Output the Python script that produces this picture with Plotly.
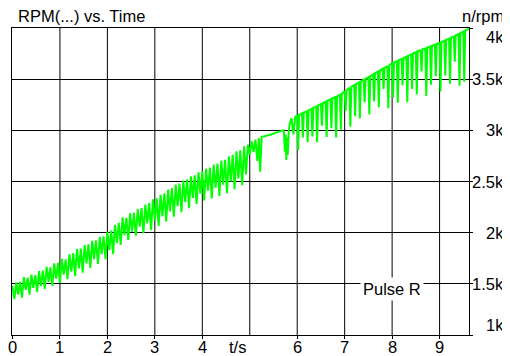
import plotly.graph_objects as go

# ---- data ----
# Segment A: dense oscillation 0..5 s (alternating crest / trough)
t_a = [0.00, 0.04, 0.08, 0.12, 0.16, 0.20, 0.24, 0.28, 0.32, 0.36,
       0.40, 0.44, 0.48, 0.52, 0.56, 0.60, 0.64, 0.68, 0.72, 0.76,
       0.80, 0.84, 0.88, 0.92, 0.96, 1.00, 1.04, 1.08, 1.12, 1.16,
       1.20, 1.24, 1.28, 1.32, 1.36, 1.40, 1.44, 1.48, 1.52, 1.56,
       1.60, 1.64, 1.68, 1.72, 1.76, 1.80, 1.84, 1.88, 1.92, 1.96,
       2.00, 2.04, 2.08, 2.12, 2.16, 2.20, 2.24, 2.28, 2.32, 2.36,
       2.40, 2.44, 2.48, 2.52, 2.56, 2.60, 2.64, 2.68, 2.72, 2.76,
       2.80, 2.84, 2.88, 2.92, 2.96, 3.00, 3.04, 3.08, 3.12, 3.16,
       3.20, 3.24, 3.28, 3.32, 3.36, 3.40, 3.44, 3.48, 3.52, 3.56,
       3.60, 3.64, 3.68, 3.72, 3.76, 3.80, 3.84, 3.88, 3.92, 3.96,
       4.00, 4.04, 4.08, 4.12, 4.16, 4.20, 4.24, 4.28, 4.32, 4.36,
       4.40, 4.44, 4.48, 4.52, 4.56, 4.60, 4.64, 4.68, 4.72, 4.76,
       4.80, 4.84, 4.88, 4.92, 4.96]
rpm_a = [1480, 1350, 1515, 1395, 1520, 1365, 1565, 1440, 1560, 1395,
         1590, 1460, 1585, 1420, 1625, 1480, 1630, 1450, 1665, 1520,
         1660, 1480, 1700, 1550, 1705, 1510, 1745, 1590, 1740, 1545,
         1790, 1620, 1800, 1575, 1840, 1650, 1845, 1610, 1880, 1700,
         1885, 1655, 1920, 1740, 1925, 1695, 1960, 1790, 1965, 1740,
         2005, 1830, 2020, 1790, 2075, 1900, 2095, 1880, 2150, 1975,
         2145, 1930, 2190, 2010, 2195, 1970, 2230, 2060, 2240, 1995,
         2275, 2090, 2290, 2025, 2325, 2120, 2335, 2065, 2370, 2160,
         2385, 2110, 2420, 2210, 2435, 2155, 2470, 2260, 2480, 2200,
         2510, 2300, 2520, 2240, 2550, 2340, 2560, 2280, 2590, 2380,
         2600, 2315, 2625, 2410, 2635, 2335, 2665, 2440, 2675, 2360,
         2705, 2470, 2712, 2385, 2745, 2500, 2760, 2425, 2795, 2530,
         2805, 2465, 2845, 2570, 2860]

# Segment B: transition 5..6 s
t_b = [5.00, 5.04, 5.08, 5.12, 5.16, 5.19, 5.22, 5.25, 5.30, 5.38,
       5.46, 5.54, 5.62, 5.70, 5.72, 5.74, 5.755, 5.77, 5.785, 5.80,
       5.82, 5.84, 5.88, 5.92, 5.96, 6.00]
rpm_b = [2760, 2895, 2790, 2910, 2700, 2925, 2595, 2935, 2940, 2950,
         2962, 2975, 2988, 3000, 2990, 2790, 2960, 2710, 2930, 2760,
         2980, 3060, 3120, 2960, 3135, 3140]

# Segment C: tooth-like dips 6..9.6 s (dip time, crest level, dip bottom)
dip_t = [6.02, 6.12, 6.22, 6.32, 6.42, 6.52, 6.62, 6.72, 6.82, 6.92,
         7.02, 7.12, 7.22, 7.32, 7.42, 7.52, 7.62, 7.72, 7.82, 7.92,
         8.02, 8.12, 8.22, 8.32, 8.42, 8.52, 8.62, 8.72, 8.82, 8.92,
         9.02, 9.12, 9.22, 9.32, 9.42, 9.52]
dip_top = [3145, 3170, 3190, 3214, 3238, 3262, 3286, 3308, 3328, 3352,
           3387, 3420, 3446, 3473, 3499, 3525, 3552, 3579, 3606, 3633,
           3659, 3681, 3703, 3725, 3747, 3769, 3787, 3805, 3823, 3841,
           3859, 3880, 3901, 3922, 3945, 3970]
dip_bottom = [2805, 2930, 2885, 2940, 2885, 3045, 2935, 3020, 2930, 3005,
              3190, 3035, 3140, 3115, 3275, 3155, 3285, 3225, 3405, 3215,
              3320, 3270, 3440, 3275, 3405, 3350, 3575, 3335, 3445, 3530,
              3380, 3535, 3455, 3670, 3435, 3475]
t_end = [9.58, 9.62]
rpm_end = [3985, 3995]

x_ticks = [0, 1, 2, 3, 4, 6, 7, 8, 9]
x_grid = [1, 2, 3, 4, 5, 6, 7, 8, 9]
y_ticks = [1000, 1500, 2000, 2500, 3000, 3500, 4000]
y_labels = ["1k", "1.5k", "2k", "2.5k", "3k", "3.5k", "4k"]

# ---- assemble trace ----
xs = list(t_a) + list(t_b)
ys = list(rpm_a) + list(rpm_b)
for td, top, bot in zip(dip_t, dip_top, dip_bottom):
    xs += [td - 0.02, td, td + 0.02]
    ys += [top - 5, bot, top + 5]
xs += t_end
ys += rpm_end

FONT = "Liberation Sans, Arial, sans-serif"
FS = 16.5
fig = go.Figure()
fig.add_trace(go.Scatter(x=xs, y=ys, mode="lines",
                         line=dict(color="#00ff00", width=2), hoverinfo="skip",
                         showlegend=False))

# page body has an 8px margin; the figure is sized/offset to compensate
fig.update_layout(
    width=502, height=348,
    margin=dict(l=4, r=41, t=20, b=21),
    paper_bgcolor="white", plot_bgcolor="white",
    font=dict(family=FONT, size=FS, color="black"),
    showlegend=False,
)
fig.update_xaxes(range=[-0.01, 9.62], tickvals=x_ticks, showticklabels=False,
                 ticks="outside", ticklen=3, tickcolor="black", automargin=False,
                 showgrid=False, zeroline=False,
                 showline=True, linecolor="black", linewidth=1, mirror=True)
fig.update_yaxes(range=[1000, 4000], tickvals=y_ticks, side="right", automargin=False,
                 showticklabels=False, ticks="outside", ticklen=3, tickcolor="black",
                 showgrid=True, gridcolor="black", gridwidth=1, zeroline=False,
                 showline=True, linecolor="black", linewidth=1, mirror=True)

# vertical grid lines (include 5 s which has no tick label)
for g in x_grid:
    fig.add_shape(type="line", xref="x", yref="paper", x0=g, x1=g, y0=0, y1=1,
                  line=dict(color="black", width=1), layer="below")

# x tick labels
for v in x_ticks:
    fig.add_annotation(x=v, xref="x", y=0, yref="paper", yshift=-12,
                       text=str(v), showarrow=False, xanchor="center", yanchor="middle",
                       font=dict(family=FONT, size=FS, color="black"))

# y tick labels on the right, first/last pulled inside like the reference
for v, lab in zip(y_ticks, y_labels):
    shift = 0
    if v == 4000:
        shift = -9
    elif v == 1000:
        shift = 10
    fig.add_annotation(x=1, xref="paper", xshift=37, y=v, yref="y", yshift=shift,
                       text=lab, showarrow=False, xanchor="right", yanchor="middle",
                       font=dict(family=FONT, size=FS, color="black"))

fig.add_annotation(x=0, xref="paper", xshift=4, y=1, yref="paper", yshift=1,
                   text="RPM(...) vs. Time", showarrow=False, xanchor="left", yanchor="bottom",
                   font=dict(family=FONT, size=FS, color="black"))
fig.add_annotation(x=1, xref="paper", xshift=37, y=1, yref="paper", yshift=1,
                   text="n/rpm", showarrow=False, xanchor="right", yanchor="bottom",
                   font=dict(family=FONT, size=FS, color="black"))
fig.add_annotation(x=5, xref="x", xshift=-2, y=0, yref="paper", yshift=-12,
                   text="t/s", showarrow=False, xanchor="right", yanchor="middle",
                   font=dict(family=FONT, size=FS, color="black"))
fig.add_annotation(x=8, xref="x", y=1500, yref="y", yshift=-5,
                   text="Pulse R", showarrow=False, xanchor="center", yanchor="middle",
                   bgcolor="white", borderpad=2,
                   font=dict(family=FONT, size=FS, color="black"))

fig.write_html("out.html")
